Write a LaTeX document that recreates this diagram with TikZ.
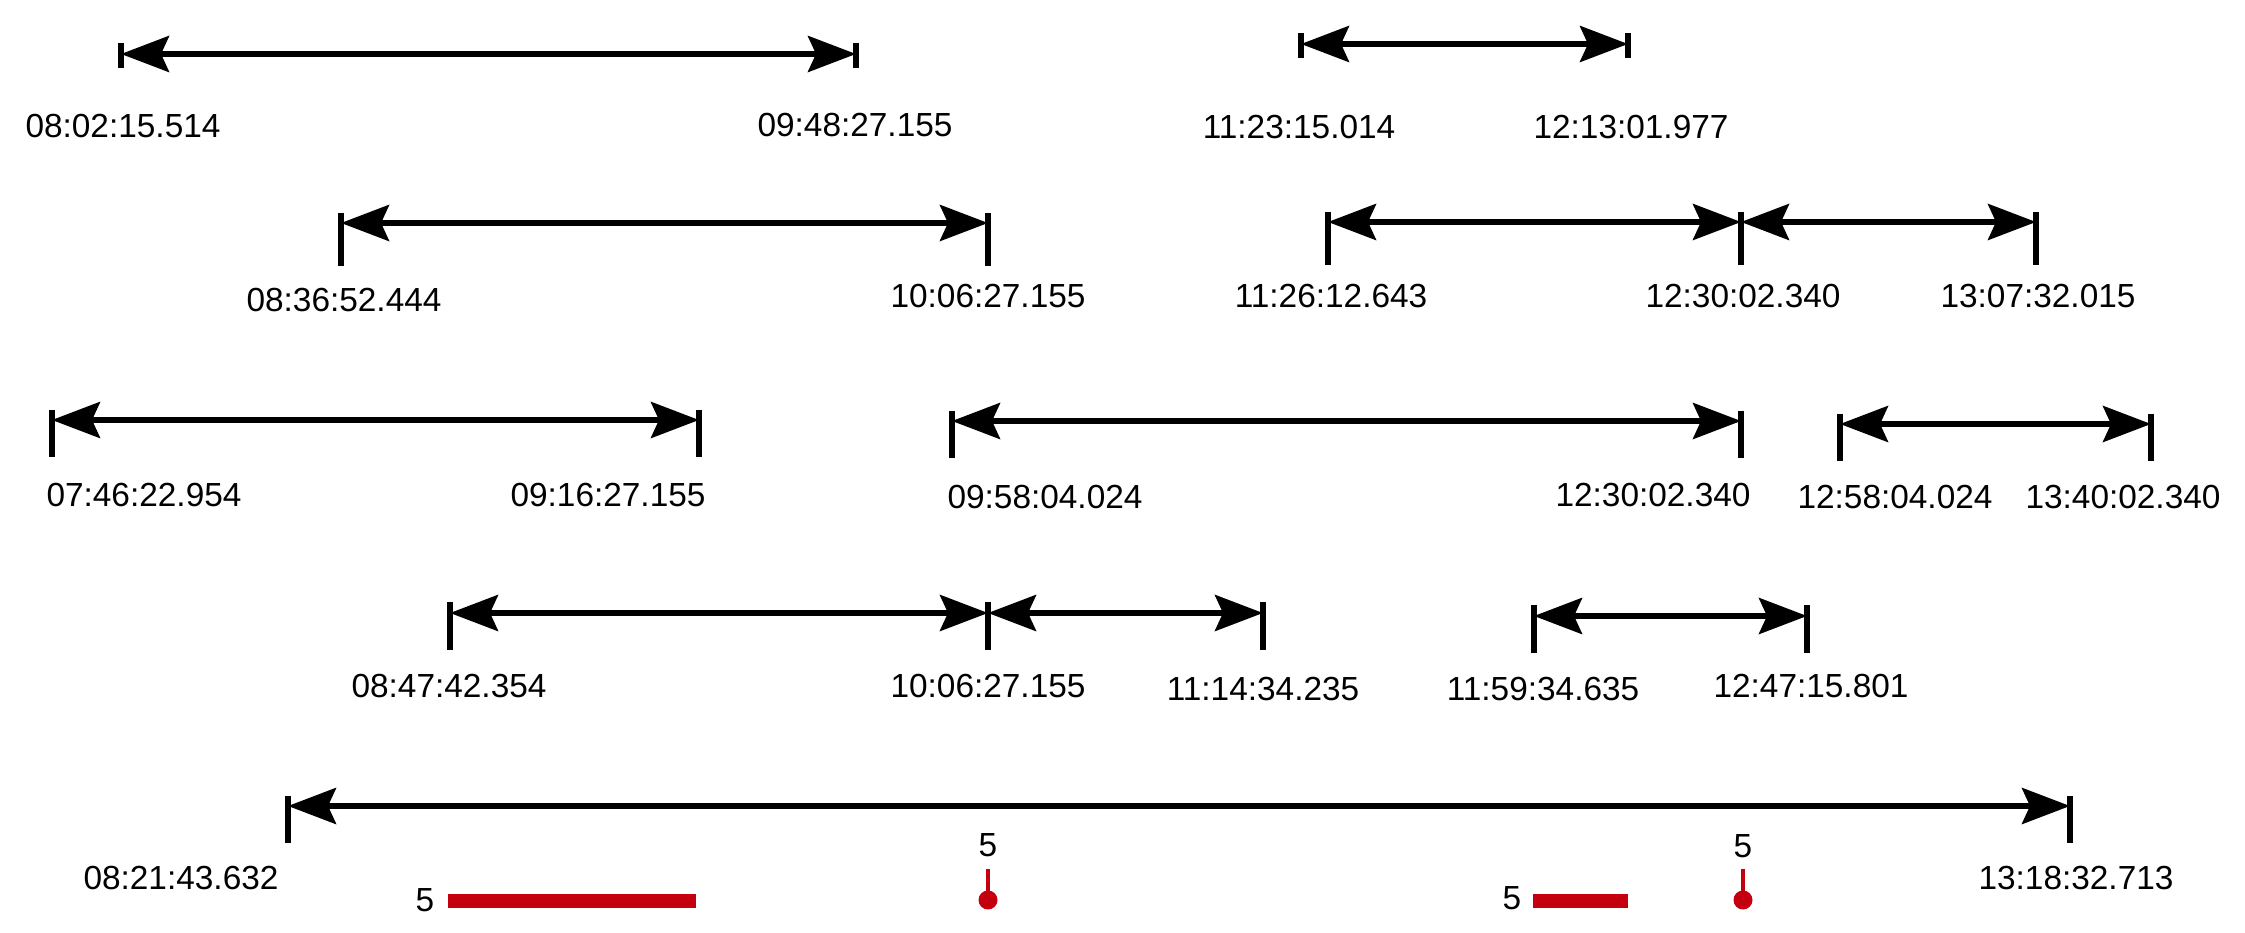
\documentclass[tikz,border=0pt]{standalone}
\usepackage{fontspec}
\setmainfont{Liberation Sans}
\usetikzlibrary{arrows.meta}
\definecolor{markred}{RGB}{196,0,14}

\begin{document}
\begin{tikzpicture}[
  interval/.style={line width=1.6pt,
    {Stealth[length=4.8mm,width=3.6mm,inset=0.8mm]}-{Stealth[length=4.8mm,width=3.6mm,inset=0.8mm]}},
  tickbar/.style={line width=1.6pt},
  stamp/.style={font=\fontsize{9.5}{11}\selectfont, inner sep=0pt},
  redbar/.style={markred, line width=4pt},
  redstem/.style={markred, line width=1.3pt}]

\useasboundingbox (0,0) rectangle (22.45,-9.33);

% --- Row 1 ---
\coordinate (a1) at (1.21,-0.54);
\coordinate (a2) at (8.56,-0.54);
\coordinate (a3) at (13.01,-0.44);
\coordinate (a4) at (16.28,-0.44);
\foreach \c in {a1,a2,a3,a4}
  \draw[tickbar] ([yshift=1.1mm]\c) -- ([yshift=-1.4mm]\c);
\draw[interval] (a1) -- (a2);
\draw[interval] (a3) -- (a4);
\node[stamp] (ta1) at (1.23,-1.26) {08:02:15.514};
\node[stamp] (ta2) at (8.55,-1.25) {09:48:27.155};
\node[stamp] (ta3) at (12.99,-1.27) {11:23:15.014};
\node[stamp] (ta4) at (16.31,-1.27) {12:13:01.977};

% --- Row 2 ---
\coordinate (b1) at (3.41,-2.23);
\coordinate (b2) at (9.88,-2.23);
\coordinate (b3) at (13.28,-2.22);
\coordinate (b4) at (17.41,-2.22);
\coordinate (b5) at (20.36,-2.22);
\foreach \c in {b1,b2,b3,b4,b5}
  \draw[tickbar] ([yshift=1mm]\c) -- ([yshift=-4.3mm]\c);
\draw[interval] (b1) -- (b2);
\draw[interval] (b3) -- (b4);
\draw[interval] (b4) -- (b5);
\node[stamp] (tb1) at (3.44,-3.00) {08:36:52.444};
\node[stamp] (tb2) at (9.88,-2.96) {10:06:27.155};
\node[stamp] (tb3) at (13.31,-2.96) {11:26:12.643};
\node[stamp] (tb4) at (17.43,-2.96) {12:30:02.340};
\node[stamp] (tb5) at (20.38,-2.96) {13:07:32.015};

% --- Row 3 ---
\coordinate (c1) at (0.52,-4.20);
\coordinate (c2) at (6.99,-4.20);
\coordinate (c3) at (9.52,-4.21);
\coordinate (c4) at (17.41,-4.21);
\coordinate (c5) at (18.40,-4.24);
\coordinate (c6) at (21.51,-4.24);
\foreach \c in {c1,c2,c3,c4,c5,c6}
  \draw[tickbar] ([yshift=1mm]\c) -- ([yshift=-3.7mm]\c);
\draw[interval] (c1) -- (c2);
\draw[interval] (c3) -- (c4);
\draw[interval] (c5) -- (c6);
\node[stamp] (tc1) at (1.44,-4.95) {07:46:22.954};
\node[stamp] (tc2) at (6.08,-4.95) {09:16:27.155};
\node[stamp] (tc3) at (10.45,-4.97) {09:58:04.024};
\node[stamp] (tc4) at (16.53,-4.95) {12:30:02.340};
\node[stamp] (tc5) at (18.95,-4.97) {12:58:04.024};
\node[stamp] (tc6) at (21.23,-4.97) {13:40:02.340};

% --- Row 4 ---
\coordinate (d1) at (4.50,-6.13);
\coordinate (d2) at (9.88,-6.13);
\coordinate (d3) at (12.63,-6.13);
\coordinate (d4) at (15.34,-6.16);
\coordinate (d5) at (18.07,-6.16);
\foreach \c in {d1,d2,d3,d4,d5}
  \draw[tickbar] ([yshift=1.1mm]\c) -- ([yshift=-3.7mm]\c);
\draw[interval] (d1) -- (d2);
\draw[interval] (d2) -- (d3);
\draw[interval] (d4) -- (d5);
\node[stamp] (td1) at (4.49,-6.86) {08:47:42.354};
\node[stamp] (td2) at (9.88,-6.86) {10:06:27.155};
\node[stamp] (td3) at (12.63,-6.89) {11:14:34.235};
\node[stamp] (td4) at (15.43,-6.89) {11:59:34.635};
\node[stamp] (td5) at (18.11,-6.86) {12:47:15.801};

% --- Row 5 (total) ---
\coordinate (e1) at (2.88,-8.06);
\coordinate (e2) at (20.70,-8.06);
\foreach \c in {e1,e2}
  \draw[tickbar] ([yshift=1mm]\c) -- ([yshift=-3.7mm]\c);
\draw[interval] (e1) -- (e2);
\node[stamp] (te1) at (1.81,-8.78) {08:21:43.632};
\node[stamp] (te2) at (20.76,-8.78) {13:18:32.713};

% --- Red markers ---
\draw[redbar] (4.48,-9.01) -- (6.96,-9.01);
\node[stamp] (n1) at (4.25,-9.00) {5};
\draw[redstem] (9.88,-8.69) -- (9.88,-9.00);
\fill[markred] (9.88,-9.00) circle (0.095);
\node[stamp] (n2) at (9.88,-8.45) {5};
\draw[redbar] (15.33,-9.01) -- (16.28,-9.01);
\node[stamp] (n3) at (15.12,-8.98) {5};
\draw[redstem] (17.43,-8.69) -- (17.43,-9.00);
\fill[markred] (17.43,-9.00) circle (0.095);
\node[stamp] (n4) at (17.43,-8.46) {5};

\end{tikzpicture}
\end{document}
